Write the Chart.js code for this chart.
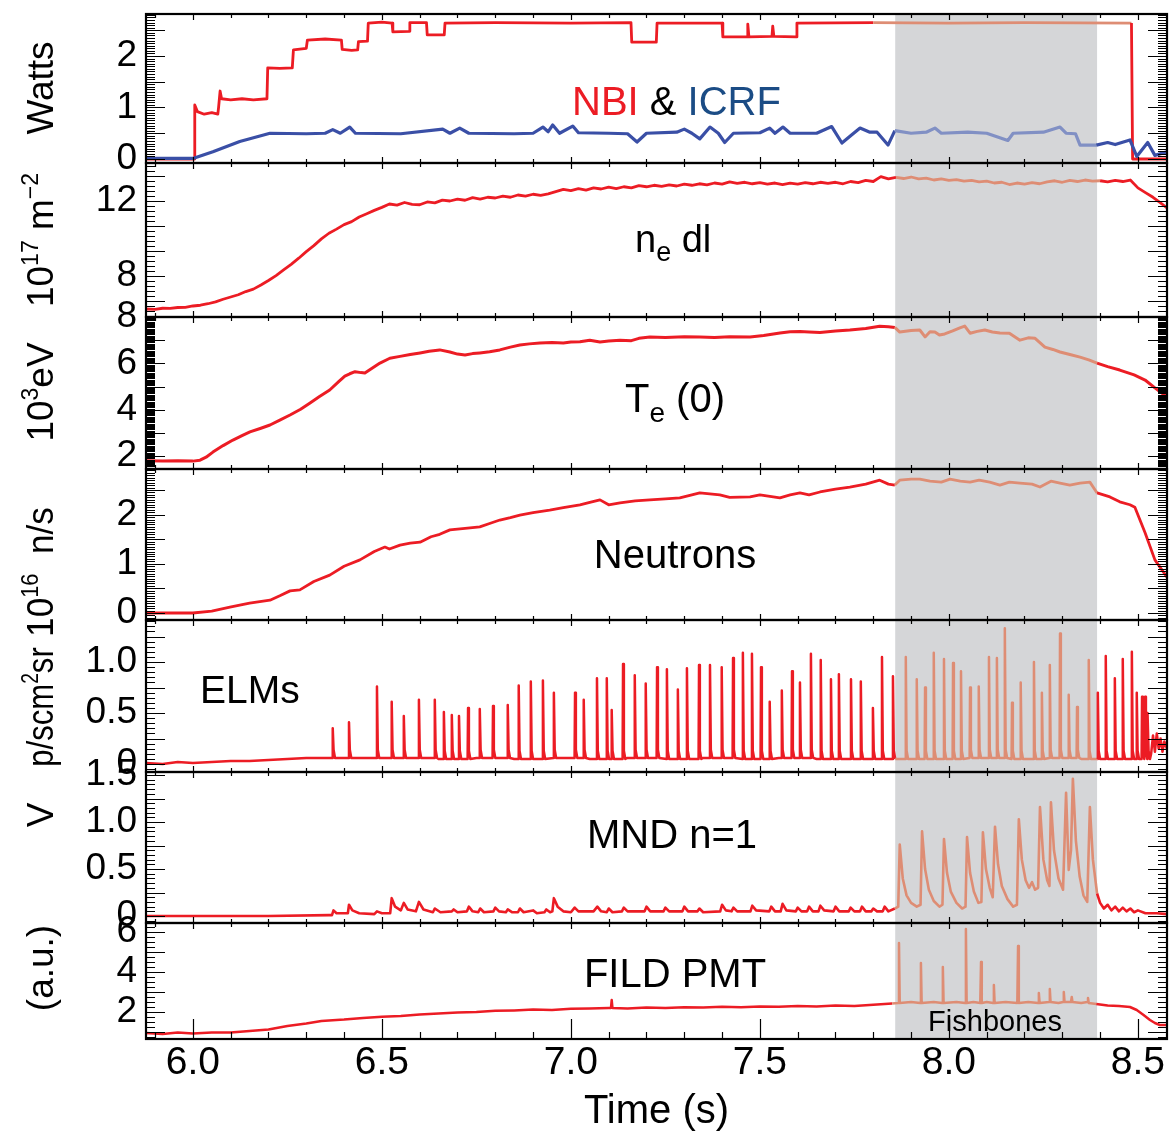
<!DOCTYPE html>
<html><head><meta charset="utf-8">
<script src="https://cdn.jsdelivr.net/npm/chart.js"></script>
<style>html,body{margin:0;padding:0;background:#fff}canvas{display:block}</style>
</head><body>
<canvas id="c" width="1176" height="1147"></canvas>
<script>
// ---------------- data ----------------
const timeRange = [5.876, 8.577];
const timeTicks = [6.0, 6.5, 7.0, 7.5, 8.0, 8.5];
const fishbones = [7.858, 8.392];

const nbiT = [5.876,6.004,6.005,6.012,6.03,6.05,6.066,6.068,6.072,6.076,6.1,6.13,6.16,6.196,6.198,6.23,6.263,6.266,6.3,6.303,6.35,6.393,6.395,6.42,6.436,6.438,6.462,6.464,6.5,6.527,6.529,6.572,6.574,6.618,6.62,6.665,6.667,6.8,7.0,7.159,7.161,7.226,7.228,7.4,7.402,7.466,7.468,7.471,7.532,7.534,7.537,7.596,7.598,7.8,8.0,8.2,8.483,8.486,8.577];
const nbiV = [0,0,1.05,0.92,0.87,0.9,0.87,1.0,1.32,1.17,1.15,1.17,1.15,1.17,1.77,1.76,1.77,2.12,2.15,2.31,2.33,2.31,2.13,2.11,2.12,2.28,2.29,2.64,2.66,2.64,2.47,2.48,2.65,2.65,2.41,2.41,2.64,2.65,2.64,2.65,2.27,2.27,2.64,2.64,2.37,2.37,2.62,2.37,2.38,2.58,2.38,2.37,2.64,2.65,2.64,2.65,2.64,0,0];

const icrfT = [5.876,6.0,6.053,6.124,6.204,6.3,6.35,6.37,6.39,6.415,6.43,6.55,6.661,6.68,6.706,6.73,6.85,6.9,6.926,6.94,6.952,6.97,7.005,7.02,7.1,7.15,7.175,7.2,7.28,7.3,7.32,7.341,7.368,7.39,7.407,7.43,7.5,7.526,7.54,7.561,7.58,7.65,7.69,7.717,7.74,7.765,7.791,7.81,7.839,7.857,7.9,7.94,7.963,7.98,8.05,8.1,8.156,8.17,8.25,8.294,8.31,8.335,8.347,8.39,8.42,8.44,8.479,8.497,8.526,8.545,8.577];
const icrfV = [0.01,0.01,0.14,0.34,0.5,0.49,0.5,0.57,0.5,0.62,0.5,0.49,0.58,0.5,0.6,0.5,0.49,0.5,0.62,0.53,0.66,0.5,0.64,0.51,0.5,0.49,0.33,0.5,0.52,0.58,0.5,0.39,0.62,0.5,0.32,0.5,0.51,0.6,0.5,0.62,0.5,0.5,0.63,0.31,0.45,0.6,0.52,0.52,0.27,0.55,0.5,0.52,0.6,0.5,0.52,0.5,0.36,0.5,0.52,0.62,0.5,0.49,0.27,0.27,0.32,0.28,0.37,0.05,0.32,0.07,0.14];

const neT = [5.876,5.9,5.92,5.94,5.96,5.98,6.0,6.02,6.04,6.06,6.08,6.1,6.12,6.14,6.16,6.18,6.2,6.22,6.24,6.26,6.28,6.3,6.32,6.34,6.36,6.38,6.4,6.42,6.44,6.46,6.48,6.5,6.52,6.54,6.56,6.58,6.6,6.62,6.64,6.66,6.68,6.7,6.72,6.74,6.76,6.78,6.8,6.82,6.84,6.86,6.88,6.9,6.92,6.94,6.96,6.98,7.0,7.02,7.04,7.06,7.08,7.1,7.12,7.14,7.16,7.18,7.2,7.22,7.24,7.26,7.28,7.3,7.32,7.34,7.36,7.38,7.4,7.42,7.44,7.46,7.48,7.5,7.52,7.54,7.56,7.58,7.6,7.62,7.64,7.66,7.68,7.7,7.72,7.74,7.76,7.78,7.8,7.82,7.84,7.86,7.88,7.9,7.92,7.94,7.96,7.98,8.0,8.02,8.04,8.06,8.08,8.1,8.12,8.14,8.16,8.18,8.2,8.22,8.24,8.26,8.28,8.3,8.32,8.34,8.36,8.38,8.4,8.42,8.44,8.46,8.48,8.5,8.52,8.54,8.56,8.577];
const neV = [6.24,6.22,6.28,6.27,6.32,6.33,6.4,6.44,6.52,6.62,6.76,6.88,7.0,7.17,7.3,7.52,7.76,8.02,8.32,8.62,8.95,9.3,9.62,9.98,10.28,10.5,10.74,10.9,11.15,11.32,11.5,11.66,11.84,11.78,11.92,11.82,11.8,11.95,11.9,12.05,12.0,12.1,12.04,12.18,12.1,12.2,12.16,12.26,12.2,12.32,12.26,12.36,12.3,12.38,12.5,12.62,12.55,12.66,12.58,12.7,12.64,12.74,12.66,12.76,12.7,12.82,12.76,12.84,12.78,12.86,12.8,12.9,12.84,12.92,12.86,12.96,12.9,13.02,12.94,13.0,12.92,12.98,12.9,12.96,12.88,12.95,12.9,12.98,12.92,13.0,12.94,13.0,12.92,13.04,12.98,13.1,13.04,13.3,13.18,13.26,13.2,13.28,13.18,13.22,13.12,13.18,13.1,13.14,13.06,13.1,13.02,13.06,12.96,13.0,12.88,12.96,12.9,12.98,12.92,13.02,13.08,13.0,13.1,13.04,13.12,13.06,13.08,13.02,13.1,13.04,13.12,12.7,12.45,12.2,11.9,11.63];

const teT = [5.876,5.92,5.96,6.0,6.019,6.035,6.053,6.08,6.106,6.13,6.151,6.18,6.204,6.23,6.257,6.285,6.31,6.335,6.362,6.385,6.402,6.415,6.429,6.445,6.455,6.475,6.495,6.521,6.548,6.575,6.601,6.625,6.653,6.68,6.7,6.72,6.74,6.759,6.785,6.812,6.84,6.865,6.89,6.918,6.95,6.98,7.0,7.024,7.05,7.077,7.1,7.13,7.16,7.18,7.209,7.25,7.3,7.341,7.38,7.42,7.474,7.51,7.553,7.58,7.606,7.63,7.659,7.7,7.738,7.78,7.817,7.84,7.857,7.87,7.9,7.923,7.937,7.95,7.963,7.975,7.989,8.01,8.029,8.042,8.056,8.075,8.095,8.115,8.135,8.16,8.188,8.21,8.228,8.254,8.275,8.294,8.32,8.347,8.37,8.392,8.42,8.452,8.49,8.519,8.545,8.577];
const teV = [1.8,1.78,1.8,1.78,1.82,1.95,2.17,2.45,2.69,2.88,3.04,3.2,3.34,3.55,3.77,4.02,4.29,4.57,4.85,5.2,5.45,5.55,5.64,5.6,5.58,5.8,6.01,6.22,6.3,6.38,6.45,6.52,6.58,6.49,6.4,6.36,6.42,6.45,6.5,6.58,6.7,6.79,6.84,6.88,6.9,6.88,6.92,6.93,7.0,6.92,6.96,7.0,6.98,7.08,7.14,7.12,7.15,7.14,7.12,7.15,7.14,7.2,7.31,7.36,7.37,7.35,7.33,7.4,7.44,7.5,7.6,7.58,7.55,7.35,7.42,7.44,7.14,7.36,7.35,7.22,7.27,7.4,7.53,7.61,7.3,7.38,7.44,7.35,7.31,7.3,7.0,7.1,7.08,6.7,6.6,6.49,6.38,6.27,6.15,6.01,5.86,5.71,5.5,5.28,4.94,4.55];

const neuT = [5.876,5.95,6.0,6.05,6.098,6.15,6.204,6.23,6.257,6.283,6.32,6.362,6.4,6.442,6.48,6.508,6.52,6.548,6.575,6.601,6.63,6.653,6.68,6.72,6.759,6.785,6.812,6.84,6.865,6.9,6.944,6.98,7.024,7.05,7.077,7.1,7.13,7.17,7.209,7.25,7.288,7.32,7.341,7.394,7.42,7.474,7.5,7.553,7.58,7.606,7.63,7.659,7.7,7.738,7.78,7.817,7.84,7.857,7.87,7.9,7.923,7.95,7.98,8.003,8.03,8.056,8.08,8.108,8.135,8.16,8.188,8.22,8.241,8.27,8.294,8.32,8.347,8.373,8.392,8.426,8.452,8.479,8.492,8.519,8.545,8.577];
const neuV = [0,0,0,0.04,0.12,0.2,0.26,0.35,0.45,0.47,0.64,0.77,0.95,1.08,1.25,1.34,1.3,1.38,1.42,1.44,1.55,1.6,1.69,1.72,1.75,1.82,1.89,1.94,1.99,2.04,2.09,2.14,2.2,2.25,2.3,2.2,2.24,2.28,2.3,2.32,2.34,2.4,2.44,2.4,2.35,2.36,2.4,2.34,2.4,2.44,2.4,2.46,2.52,2.56,2.62,2.7,2.62,2.6,2.7,2.72,2.72,2.68,2.66,2.72,2.68,2.66,2.7,2.66,2.6,2.66,2.64,2.62,2.56,2.68,2.64,2.6,2.64,2.66,2.44,2.36,2.26,2.2,2.15,1.63,1.08,0.73];

const elmBaseT = [5.876,5.92,5.96,6.0,6.05,6.1,6.15,6.2,6.25,6.3,6.35,6.45,6.55,6.65,6.75,6.85,6.95,7.05,7.15,7.25,7.35,7.45,7.55,7.65,7.75,7.85,7.95,8.05,8.15,8.25,8.35,8.45,8.53,8.535,8.54,8.545,8.55,8.555,8.56,8.565,8.57,8.577];
const elmBaseV = [0.01,0.0,0.02,0.01,0.02,0.03,0.03,0.04,0.05,0.06,0.06,0.06,0.06,0.05,0.06,0.05,0.06,0.05,0.06,0.05,0.06,0.05,0.06,0.05,0.05,0.05,0.05,0.06,0.05,0.06,0.05,0.05,0.3,0.1,0.28,0.12,0.3,0.15,0.25,0.12,0.22,0.15];
const elmSpikeT = [6.370,6.413,6.487,6.526,6.558,6.598,6.640,6.664,6.685,6.704,6.728,6.759,6.794,6.833,6.862,6.894,6.926,6.955,7.011,7.034,7.069,7.095,7.108,7.138,7.169,7.198,7.228,7.254,7.283,7.307,7.339,7.368,7.399,7.429,7.455,7.479,7.503,7.526,7.558,7.585,7.606,7.635,7.661,7.688,7.709,7.741,7.767,7.799,7.823,7.852,7.886,7.915,7.937,7.960,7.987,8.011,8.032,8.056,8.079,8.106,8.127,8.148,8.167,8.190,8.225,8.246,8.267,8.294,8.317,8.339,8.370,8.394,8.415,8.439,8.460,8.484,8.497,8.511,8.519,8.526];
const elmSpikeV = [0.35,0.41,0.76,0.61,0.47,0.63,0.63,0.51,0.48,0.47,0.55,0.54,0.57,0.58,0.77,0.81,0.82,0.70,0.70,0.63,0.84,0.84,0.53,0.98,0.87,0.79,0.95,0.93,0.73,0.94,0.97,0.97,0.95,1.04,1.09,1.08,0.95,0.61,0.72,0.91,0.80,1.08,1.02,0.83,0.88,0.83,0.81,0.55,1.05,0.86,1.05,0.83,0.75,1.09,1.03,0.99,0.91,0.75,0.76,1.05,1.04,1.33,0.60,0.80,1.00,0.70,0.97,1.28,0.68,0.56,1.02,0.70,1.06,0.84,1.03,1.10,0.70,0.66,0.66,0.50];

const mndT = [5.876,6.0,6.2,6.36,6.368,6.372,6.38,6.41,6.413,6.422,6.44,6.48,6.487,6.5,6.522,6.526,6.535,6.55,6.558,6.568,6.59,6.598,6.61,6.635,6.64,6.655,6.685,6.69,6.7,6.725,6.73,6.74,6.755,6.76,6.77,6.795,6.8,6.81,6.828,6.833,6.845,6.86,6.865,6.875,6.9,6.91,6.93,6.935,6.945,6.951,6.955,6.965,6.98,7.0,7.01,7.02,7.06,7.07,7.08,7.095,7.1,7.11,7.135,7.14,7.15,7.195,7.2,7.21,7.245,7.25,7.26,7.295,7.3,7.31,7.335,7.34,7.35,7.395,7.4,7.41,7.425,7.43,7.44,7.475,7.48,7.49,7.525,7.53,7.54,7.555,7.56,7.57,7.595,7.6,7.61,7.625,7.63,7.64,7.655,7.66,7.67,7.695,7.7,7.71,7.735,7.74,7.75,7.765,7.77,7.78,7.795,7.8,7.81,7.825,7.83,7.84,7.857,7.866,7.870,7.878,7.888,7.9,7.915,7.925,7.929,7.937,7.947,7.96,7.975,7.983,7.987,7.995,8.005,8.02,8.035,8.044,8.048,8.056,8.066,8.078,8.086,8.09,8.098,8.108,8.116,8.122,8.13,8.14,8.155,8.17,8.18,8.185,8.193,8.203,8.212,8.22,8.228,8.236,8.241,8.25,8.26,8.266,8.27,8.278,8.29,8.302,8.31,8.317,8.323,8.328,8.336,8.346,8.356,8.366,8.373,8.381,8.392,8.4,8.41,8.42,8.43,8.44,8.45,8.46,8.47,8.48,8.49,8.5,8.52,8.55,8.577];
const mndV = [0.0,0.0,0.0,0.01,0.01,0.06,0.03,0.03,0.12,0.06,0.03,0.02,0.05,0.03,0.03,0.19,0.1,0.06,0.14,0.07,0.05,0.15,0.07,0.04,0.08,0.04,0.05,0.07,0.04,0.05,0.1,0.05,0.04,0.08,0.04,0.05,0.09,0.05,0.04,0.07,0.04,0.04,0.08,0.04,0.06,0.03,0.04,0.07,0.04,0.05,0.19,0.1,0.05,0.04,0.09,0.05,0.05,0.1,0.05,0.04,0.08,0.04,0.05,0.09,0.05,0.05,0.1,0.05,0.05,0.09,0.05,0.05,0.1,0.05,0.05,0.08,0.04,0.05,0.12,0.06,0.05,0.09,0.05,0.05,0.11,0.06,0.05,0.1,0.05,0.05,0.13,0.06,0.05,0.09,0.05,0.05,0.1,0.05,0.05,0.11,0.06,0.05,0.1,0.05,0.05,0.09,0.05,0.05,0.1,0.05,0.05,0.08,0.05,0.05,0.1,0.05,0.08,0.1,0.76,0.4,0.22,0.14,0.1,0.12,0.9,0.5,0.28,0.16,0.1,0.12,0.82,0.46,0.26,0.14,0.08,0.1,0.84,0.46,0.26,0.14,0.15,0.89,0.5,0.3,0.2,0.95,0.55,0.32,0.18,0.1,0.12,1.03,0.6,0.38,0.3,0.36,0.28,0.3,1.16,0.6,0.38,0.32,1.21,0.7,0.4,0.28,1.31,0.49,0.7,1.46,0.8,0.42,0.22,0.15,1.16,0.6,0.24,0.14,0.08,0.12,0.06,0.1,0.05,0.09,0.05,0.08,0.04,0.06,0.03,0.03,0.02];

const fildT = [5.876,5.92,5.96,6.0,6.05,6.1,6.15,6.2,6.25,6.3,6.34,6.4,6.45,6.5,6.55,6.6,6.65,6.7,6.75,6.8,6.85,6.9,6.95,7.0,7.05,7.1,7.106,7.108,7.11,7.15,7.2,7.25,7.3,7.35,7.4,7.45,7.5,7.55,7.6,7.65,7.7,7.75,7.8,7.85,7.866,7.868,7.87,7.9,7.924,7.926,7.928,7.96,7.982,7.984,7.986,8.02,8.043,8.045,8.047,8.065,8.083,8.085,8.087,8.1,8.117,8.119,8.121,8.15,8.181,8.183,8.185,8.21,8.236,8.238,8.24,8.265,8.267,8.269,8.29,8.302,8.304,8.306,8.323,8.325,8.327,8.35,8.366,8.368,8.37,8.39,8.42,8.45,8.479,8.497,8.515,8.532,8.545,8.558,8.577];
const fildV = [0.95,0.9,0.97,0.93,0.98,0.97,1.05,1.12,1.3,1.42,1.55,1.62,1.7,1.76,1.8,1.88,1.92,1.98,2.0,2.06,2.08,2.12,2.1,2.16,2.18,2.2,2.2,2.6,2.2,2.18,2.22,2.2,2.24,2.22,2.26,2.24,2.28,2.26,2.3,2.28,2.32,2.3,2.36,2.42,2.45,5.45,2.45,2.5,2.45,4.45,2.45,2.5,2.45,4.25,2.45,2.5,2.45,6.15,2.45,2.5,2.45,4.5,2.45,2.5,2.45,3.35,2.45,2.5,2.45,5.3,2.45,2.5,2.45,2.95,2.45,2.5,3.15,2.5,2.45,2.5,3.0,2.5,2.5,2.75,2.5,2.45,2.5,2.7,2.45,2.4,2.32,2.3,2.25,2.1,1.85,1.6,1.45,1.35,1.35];

// ---------------- styling / layout ----------------
const FONT = "'Liberation Sans', Arial, Helvetica, sans-serif";
const RED = '#EC1C24', SALMON = '#DE8D74', BLUE = '#3A4FA6', BLUE_SH = '#8190C4', SHADE = '#D5D6D8', ICRF_TXT = '#1B4C85';

const panels = [
  {id:'y1', top:14,  bottom:163,  min:-0.078, max:2.816, labels:[0,1,2],       base:0, major:0.5,  minor:0.05, dec:false},
  {id:'y2', top:163, bottom:317,  min:5.813,  max:14.027, labels:[8,12],       base:8, major:4/3,  minor:4/15, dec:false},
  {id:'y3', top:317, bottom:469,  min:1.44,   max:8.0,   labels:[2,4,6,8],     base:2, major:1,    minor:0.05, dec:false},
  {id:'y4', top:469, bottom:620,  min:-0.142, max:2.927, labels:[0,1,2],       base:0, major:0.5,  minor:0.05, dec:false},
  {id:'y5', top:620, bottom:772,  min:-0.078, max:1.412, labels:[0,0.5,1],     base:0, major:0.25, minor:0.05, dec:true},
  {id:'y6', top:772, bottom:923,  min:-0.074, max:1.532, labels:[0,0.5,1,1.5], base:0, major:0.25, minor:0.05, dec:true},
  {id:'y7', top:923, bottom:1039, min:0.65,   max:6.45,  labels:[2,4,6],       base:2, major:1,    minor:0.25, dec:false},
];

// rotated axis titles: cy = screen centre, sx = horizontal condensation of the text run
const yTitles = [
  {cy:88,  sx:1,    parts:[['Watts',37]]},
  {cy:240, sx:1,    parts:[['10',37],['17',23,-15],[' m',37],['\u22122',23,-15]]},
  {cy:392, sx:1,    parts:[['10',37],['3',23,-15],['eV',37]]},
  {cy:572, sx:0.95, parts:[['10',37],['16',23,-15],['  n/s',37]]},
  {cy:707, sx:0.84, parts:[['p/scm',37],['2',23,-15],['sr',37]]},
  {cy:815, sx:1,    parts:[['V',37]]},
  {cy:968, sx:1,    parts:[['(a.u.)',37]]},
];
const panelTexts = [
  {x:572, y:115, align:'left',   parts:[['NBI',40,0,RED],[' & ',40,0,'#000'],['ICRF',40,0,ICRF_TXT]]},
  {x:635, y:252, align:'left',   parts:[['n',38],['e',27,9],[' dl',38]]},
  {x:625, y:412, align:'left',   parts:[['T',40],['e',28,10],[' (0)',40]]},
  {x:675, y:568, align:'center', parts:[['Neutrons',40]]},
  {x:200, y:703, align:'left',   parts:[['ELMs',39]]},
  {x:672, y:848, align:'center', parts:[['MND n=1',40]]},
  {x:675, y:987, align:'center', parts:[['FILD PMT',40]]},
  {x:995, y:1031, align:'center', parts:[['Fishbones',29]]},
];

// ---------------- build series ----------------
const pts = (T, V) => T.map((t, i) => ({x: t, y: V[i]}));
function withSpikes(bT, bV, sT, sV) {
  const baseAt = t => { let v = bV[0]; for (let i = 0; i < bT.length; i++) { if (bT[i] <= t) v = bV[i]; } return v; };
  const out = [];
  bT.forEach((t, i) => { if (!sT.some(s => Math.abs(s - t) < 0.007)) out.push({x: t, y: bV[i]}); });
  sT.forEach((t, i) => {
    const b = baseAt(t);
    out.push({x: t - 0.0012, y: b}, {x: t, y: sV[i]}, {x: t + 0.0022, y: b + 0.08}, {x: t + 0.006, y: b});
  });
  out.sort((a, b) => a.x - b.x);
  return out;
}
const inShade = ctx => { const m = (ctx.p0.parsed.x + ctx.p1.parsed.x) / 2; return m >= fishbones[0] && m <= fishbones[1]; };
function ds(label, data, yID, col, colSh, w) {
  return {label, data, yAxisID: yID, borderColor: col, borderWidth: w, pointRadius: 0, fill: false, tension: 0,
          borderJoinStyle: 'round', segment: {borderColor: ctx => inShade(ctx) ? colSh : col}};
}

function yAxis(p) {
  return {
    type: 'linear', position: 'left', stack: 'panels', stackWeight: p.bottom - p.top,
    min: p.min, max: p.max,
    afterFit: s => { s.width = 146; s.paddingTop = 0; s.paddingBottom = 0; },
    afterBuildTicks: s => { s.ticks = p.labels.map(v => ({value: v})); },
    ticks: {font: {family: FONT, size: 37}, color: '#000', padding: 9, autoSkip: false,
            callback: v => (p.dec && v !== 0) ? v.toFixed(1) : String(v)},
    grid: {display: false, drawTicks: false},
    border: {display: false}
  };
}

function rich(ctx, parts, x, y, align) {
  let w = 0;
  for (const [t, sz] of parts) { ctx.font = sz + 'px ' + FONT; w += ctx.measureText(t).width; }
  let cx = align === 'center' ? x - w / 2 : x;
  ctx.textAlign = 'left'; ctx.textBaseline = 'alphabetic';
  for (const [t, sz, dy, col] of parts) {
    ctx.font = sz + 'px ' + FONT; ctx.fillStyle = col || '#000';
    ctx.fillText(t, cx, y + (dy || 0));
    cx += ctx.measureText(t).width;
  }
}

const framePlugin = {
  id: 'frames',
  afterLayout(chart) {
    const L = chart.chartArea.left;
    for (const p of panels) {
      const s = chart.scales[p.id];
      s.left = 0; s.right = L; s.width = L;
      s.top = p.top; s.bottom = p.bottom; s.height = p.bottom - p.top;
      s.configure();
    }
  },
  beforeDatasetsDraw(chart) {
    const {ctx, chartArea: a, scales: {x}} = chart;
    const x0 = x.getPixelForValue(fishbones[0]), x1 = x.getPixelForValue(fishbones[1]);
    ctx.save(); ctx.fillStyle = SHADE; ctx.fillRect(x0, a.top, x1 - x0, a.bottom - a.top); ctx.restore();
  },
  afterDatasetsDraw(chart) {
    const {ctx, chartArea: a, scales} = chart;
    const xs = scales.x, L = a.left, R = a.right;
    ctx.save();
    ctx.strokeStyle = '#000';
    panels.forEach((p, idx) => {
      const s = scales[p.id];
      ctx.lineWidth = 1.2;
      ctx.beginPath();
      const k0 = Math.ceil((p.min - p.base) / p.minor - 1e-6), k1 = Math.floor((p.max - p.base) / p.minor + 1e-6);
      for (let k = k0; k <= k1; k++) {
        const v = p.base + k * p.minor;
        const y = Math.round(s.getPixelForValue(v)) + 0.5;
        if (y < p.top || y > p.bottom) continue;
        const r = (v - p.base) / p.major;
        const len = Math.abs(r - Math.round(r)) < 1e-6 ? 19 : 9;
        ctx.moveTo(L, y); ctx.lineTo(L + len, y);
        ctx.moveTo(R, y); ctx.lineTo(R - len, y);
      }
      const last = idx === panels.length - 1;
      for (let k = 59; k <= 85; k++) {
        const t = k / 10, px = Math.round(xs.getPixelForValue(t)) + 0.5;
        const maj = k % 5 === 0;
        const lt = maj ? 6 : 4;
        const lb = last ? (maj ? 20 : 7) : lt;
        ctx.moveTo(px, p.top); ctx.lineTo(px, p.top + lt);
        ctx.moveTo(px, p.bottom); ctx.lineTo(px, p.bottom - lb);
      }
      ctx.stroke();
      ctx.lineWidth = 2.2;
      ctx.strokeRect(L, p.top, R - L, p.bottom - p.top);
    });
    for (const t of yTitles) {
      ctx.save(); ctx.translate(40, t.cy); ctx.rotate(-Math.PI / 2); ctx.scale(t.sx, 1);
      rich(ctx, t.parts, 0, 13, 'center');
      ctx.restore();
    }
    for (const t of panelTexts) rich(ctx, t.parts, t.x, t.y, t.align);
    ctx.restore();
  }
};

const scales = {
  x: {
    type: 'linear', position: 'bottom', min: timeRange[0], max: timeRange[1],
    afterFit: s => { s.height = 108; s.paddingLeft = 0; s.paddingRight = 0; },
    afterBuildTicks: s => { s.ticks = timeTicks.map(v => ({value: v})); },
    ticks: {font: {family: FONT, size: 39}, color: '#000', padding: 1, maxRotation: 0, autoSkip: false,
            callback: v => v.toFixed(1)},
    grid: {display: false, drawTicks: false},
    border: {display: false},
    title: {display: true, text: 'Time (s)', color: '#000', font: {family: FONT, size: 40}, padding: {top: 0, bottom: 11}}
  }
};
panels.forEach(p => { scales[p.id] = yAxis(p); });

new Chart(document.getElementById('c'), {
  type: 'line',
  data: {
    datasets: [
      ds('ICRF', pts(icrfT, icrfV), 'y1', BLUE, BLUE_SH, 3.2),
      ds('NBI', pts(nbiT, nbiV), 'y1', RED, SALMON, 2.8),
      ds('ne dl', pts(neT, neV), 'y2', RED, SALMON, 2.8),
      ds('Te(0)', pts(teT, teV), 'y3', RED, SALMON, 3),
      ds('Neutrons', pts(neuT, neuV), 'y4', RED, SALMON, 2.8),
      ds('ELMs', withSpikes(elmBaseT, elmBaseV, elmSpikeT, elmSpikeV), 'y5', RED, SALMON, 2.5),
      ds('MND n=1', pts(mndT, mndV), 'y6', RED, SALMON, 2.6),
      ds('FILD PMT', pts(fildT, fildV), 'y7', RED, SALMON, 2.5)
    ]
  },
  options: {
    responsive: false, animation: false, devicePixelRatio: 1, events: [],
    layout: {padding: {top: 14, right: 9, left: 0, bottom: 0}},
    plugins: {legend: {display: false}, tooltip: {enabled: false}},
    scales
  },
  plugins: [framePlugin]
});
</script>
</body></html>
